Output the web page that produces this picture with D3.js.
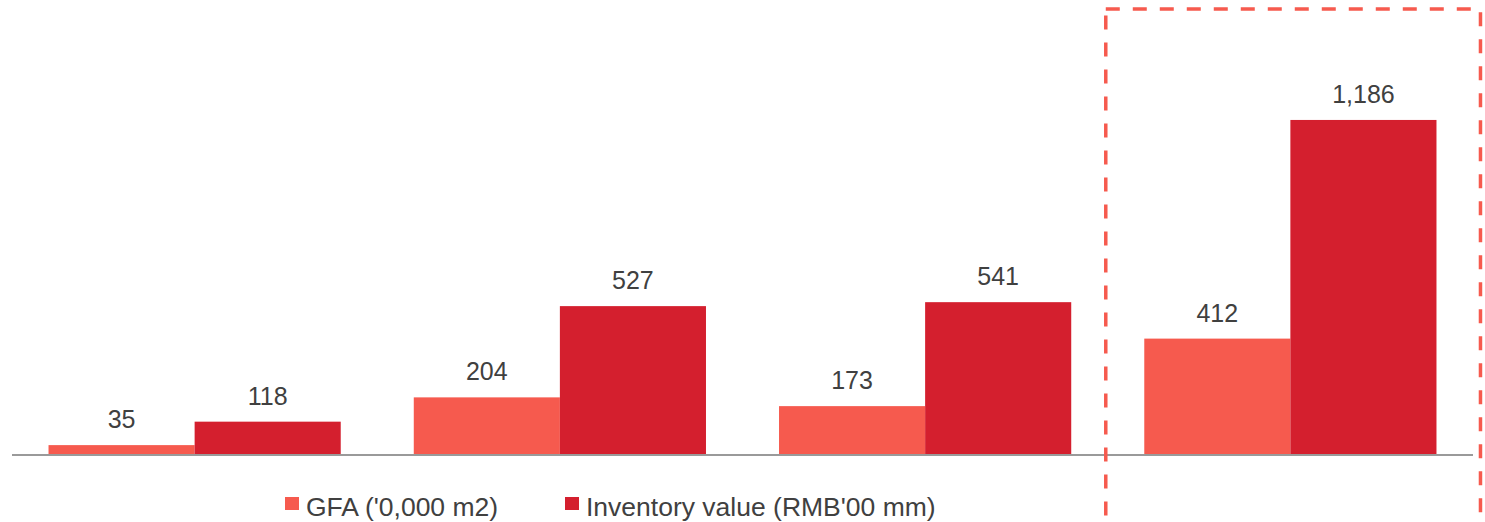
<!DOCTYPE html>
<html>
<head>
<meta charset="utf-8">
<script src="https://cdn.jsdelivr.net/npm/d3@7"></script>
<style>
  html, body { margin: 0; padding: 0; background: #fff; }
  svg { display: block; }
  text { font-family: "Liberation Sans", Arial, sans-serif; fill: #404040; }
</style>
</head>
<body>
<svg id="chart" width="1485" height="522"></svg>
<script>
// ---- data ----
const categories = ["G1", "G2", "G3", "G4"];
const seriesNames = ["GFA ('0,000 m2)", "Inventory value (RMB'00 mm)"];
const gfaValues = [35, 204, 173, 412];
const inventoryValues = [118, 527, 541, 1186];
const highlightCategory = "G4";

const colors = ["#F65A4E", "#D41F2E"];

const svg = d3.select("#chart");
const axisLeft = 12, axisRight = 1473, baseY = 455;

const x0 = d3.scaleBand()
  .domain(categories)
  .range([axisLeft, axisRight])
  .paddingInner(0.2)
  .paddingOuter(0.1);

const x1 = d3.scaleBand()
  .domain([0, 1])
  .range([0, x0.bandwidth()])
  .padding(0);

const y = d3.scaleLinear().domain([0, 1400]).range([baseY, 59.5]);

const rows = categories.map((c, i) => ({ cat: c, vals: [gfaValues[i], inventoryValues[i]] }));

const groups = svg.selectAll("g.grp").data(rows).join("g")
  .attr("class", "grp")
  .attr("transform", d => `translate(${x0(d.cat)},0)`);

groups.selectAll("rect").data(d => d.vals.map((v, k) => ({ v, k }))).join("rect")
  .attr("x", d => x1(d.k))
  .attr("y", d => y(d.v))
  .attr("width", x1.bandwidth())
  .attr("height", d => y(0) - y(d.v))
  .attr("fill", d => colors[d.k]);

groups.selectAll("text.lbl").data(d => d.vals.map((v, k) => ({ v, k }))).join("text")
  .attr("class", "lbl")
  .attr("x", d => x1(d.k) + x1.bandwidth() / 2)
  .attr("y", d => y(d.v) - 17)
  .attr("text-anchor", "middle")
  .style("font-size", "25px")
  .text(d => d3.format(",")(d.v));

// baseline axis
svg.append("line")
  .attr("x1", axisLeft).attr("x2", axisRight)
  .attr("y1", y(0)).attr("y2", y(0))
  .attr("stroke", "#9a9a9a").attr("stroke-width", 2);

// highlight dashed box
const hx = x0(highlightCategory);
svg.append("rect")
  .attr("x", hx - 38.5)
  .attr("y", 9)
  .attr("width", x0.bandwidth() + 38.5 + 44)
  .attr("height", 540)
  .attr("fill", "none")
  .attr("stroke", "#F65A4E")
  .attr("stroke-width", 3.5)
  .attr("stroke-dasharray", "14,13");

// legend
const legendItems = [
  { name: seriesNames[0], color: colors[0], x: 285 },
  { name: seriesNames[1], color: colors[1], x: 565 }
];
const lg = svg.selectAll("g.leg").data(legendItems).join("g")
  .attr("class", "leg")
  .attr("transform", d => `translate(${d.x},0)`);
lg.append("rect")
  .attr("x", 0).attr("y", 497)
  .attr("width", 14).attr("height", 13)
  .attr("fill", d => d.color);
lg.append("text")
  .attr("x", 21).attr("y", 516)
  .style("font-size", "26.5px")
  .text(d => d.name);
</script>
</body>
</html>
